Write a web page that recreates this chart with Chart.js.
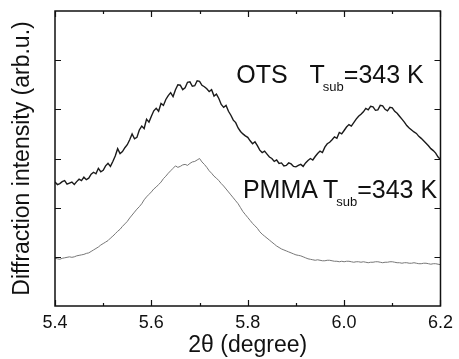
<!DOCTYPE html>
<html>
<head>
<meta charset="utf-8">
<script src="https://cdn.jsdelivr.net/npm/chart.js@4.4.1/dist/chart.umd.min.js"></script>
<style>
  html, body { margin: 0; padding: 0; background: #fff; }
  #wrap { width: 459px; height: 359px; }
</style>
</head>
<body>
<div id="wrap"><canvas id="xrd" width="459" height="359"></canvas></div>
<script>
// 2theta values (degree), step 0.005
var twoTheta = [
  5.400,5.405,5.410,5.415,5.420,5.425,5.430,5.435,5.440,5.445,
  5.450,5.455,5.460,5.465,5.470,5.475,5.480,5.485,5.490,5.495,
  5.500,5.505,5.510,5.515,5.520,5.525,5.530,5.535,5.540,5.545,
  5.550,5.555,5.560,5.565,5.570,5.575,5.580,5.585,5.590,5.595,
  5.600,5.605,5.610,5.615,5.620,5.625,5.630,5.635,5.640,5.645,
  5.650,5.655,5.660,5.665,5.670,5.675,5.680,5.685,5.690,5.695,
  5.700,5.705,5.710,5.715,5.720,5.725,5.730,5.735,5.740,5.745,
  5.750,5.755,5.760,5.765,5.770,5.775,5.780,5.785,5.790,5.795,
  5.800,5.805,5.810,5.815,5.820,5.825,5.830,5.835,5.840,5.845,
  5.850,5.855,5.860,5.865,5.870,5.875,5.880,5.885,5.890,5.895,
  5.900,5.905,5.910,5.915,5.920,5.925,5.930,5.935,5.940,5.945,
  5.950,5.955,5.960,5.965,5.970,5.975,5.980,5.985,5.990,5.995,
  6.000,6.005,6.010,6.015,6.020,6.025,6.030,6.035,6.040,6.045,
  6.050,6.055,6.060,6.065,6.070,6.075,6.080,6.085,6.090,6.095,
  6.100,6.105,6.110,6.115,6.120,6.125,6.130,6.135,6.140,6.145,
  6.150,6.155,6.160,6.165,6.170,6.175,6.180,6.185,6.190,6.195,
  6.200
];

// OTS, Tsub = 343 K (offset trace)
var otsIntensity = [
  2.52,2.47,2.49,2.53,2.55,2.48,2.50,2.52,2.47,2.53,
  2.58,2.55,2.62,2.57,2.60,2.68,2.72,2.69,2.80,2.73,
  2.76,2.85,2.90,2.84,2.94,3.05,3.20,3.10,3.14,3.22,
  3.28,3.38,3.50,3.40,3.43,3.58,3.66,3.61,3.80,3.74,
  3.86,3.97,4.02,3.96,4.12,4.08,4.20,4.28,4.34,4.26,
  4.40,4.50,4.49,4.40,4.44,4.55,4.56,4.47,4.48,4.58,
  4.57,4.49,4.46,4.42,4.36,4.40,4.27,4.31,4.22,4.10,
  4.04,4.08,3.96,3.88,3.78,3.73,3.62,3.55,3.50,3.46,
  3.43,3.36,3.30,3.34,3.26,3.17,3.12,3.15,3.09,3.03,
  3.00,2.94,2.97,2.90,2.91,2.85,2.86,2.91,2.89,2.84,
  2.83,2.86,2.88,2.84,2.91,2.96,3.00,2.97,3.04,3.10,
  3.15,3.12,3.23,3.30,3.33,3.38,3.44,3.41,3.53,3.50,
  3.57,3.64,3.69,3.66,3.73,3.80,3.86,3.90,3.95,4.02,
  3.99,4.06,4.05,3.98,3.99,4.08,4.07,4.00,3.97,4.04,
  4.03,3.96,3.92,3.86,3.80,3.74,3.67,3.62,3.58,3.54,
  3.51,3.45,3.41,3.36,3.31,3.26,3.20,3.16,3.11,3.03,
  2.98
];

// PMMA, Tsub = 343 K
var pmmaIntensity = [
  0.97,0.96,0.95,0.97,0.98,0.99,1.00,0.99,1.00,1.02,
  1.03,1.04,1.05,1.07,1.08,1.11,1.14,1.17,1.20,1.24,
  1.27,1.30,1.33,1.38,1.42,1.47,1.52,1.56,1.62,1.67,
  1.72,1.79,1.85,1.91,1.97,2.02,2.08,2.16,2.22,2.27,
  2.32,2.38,2.42,2.47,2.52,2.59,2.64,2.70,2.75,2.80,
  2.85,2.82,2.84,2.87,2.88,2.86,2.90,2.93,2.94,2.97,
  3.00,2.93,2.88,2.82,2.75,2.70,2.64,2.60,2.55,2.49,
  2.44,2.38,2.32,2.26,2.20,2.14,2.08,2.00,1.92,1.86,
  1.80,1.74,1.68,1.63,1.58,1.51,1.46,1.42,1.38,1.34,
  1.30,1.26,1.22,1.19,1.16,1.14,1.12,1.10,1.08,1.06,
  1.04,1.03,1.02,1.00,0.98,0.96,0.95,0.94,0.93,0.94,
  0.93,0.92,0.92,0.93,0.93,0.92,0.91,0.91,0.90,0.91,
  0.90,0.91,0.91,0.90,0.89,0.90,0.90,0.89,0.90,0.89,
  0.88,0.89,0.89,0.90,0.90,0.89,0.88,0.89,0.89,0.90,
  0.90,0.89,0.88,0.88,0.87,0.88,0.88,0.87,0.87,0.88,
  0.87,0.86,0.86,0.87,0.87,0.86,0.85,0.86,0.86,0.85,
  0.84
];

var xTickValues = [5.4,5.5,5.6,5.7,5.8,5.9,6.0,6.1,6.2];
var yTickValues = [1,2,3,4,5];

var FONT = '"Liberation Sans", Arial, sans-serif';

function pairs(xs, ys) {
  return xs.map(function (x, i) { return { x: x, y: ys[i] }; });
}

// frame, inward ticks and the two labels
var framePlugin = {
  id: 'frame',
  afterDraw: function (chart) {
    var c = chart.ctx;
    var a = chart.chartArea;
    var xs = chart.scales.x, ys = chart.scales.y;
    c.save();
    c.strokeStyle = '#111';
    c.lineWidth = 1.5;
    c.strokeRect(a.left, a.top, a.right - a.left, a.bottom - a.top);

    c.lineWidth = 1.2;
    c.beginPath();
    xTickValues.forEach(function (v) {
      var px = Math.round(xs.getPixelForValue(v)) + 0.5;
      var major = Math.round(v * 10) % 2 === 0;
      var len = major ? 6 : 3;
      c.moveTo(px, a.bottom); c.lineTo(px, a.bottom - len);
      c.moveTo(px, a.top); c.lineTo(px, a.top + len);
    });
    yTickValues.forEach(function (v) {
      var py = Math.round(ys.getPixelForValue(v)) + 0.5;
      c.moveTo(a.left, py); c.lineTo(a.left + 6, py);
      c.moveTo(a.right, py); c.lineTo(a.right - 6, py);
    });
    c.stroke();

    function label(name, gap, xv, yv) {
      var px = xs.getPixelForValue(xv);
      var py = ys.getPixelForValue(yv);
      c.fillStyle = '#111';
      c.textBaseline = 'alphabetic';
      c.textAlign = 'left';
      c.font = '25px ' + FONT;
      c.fillText(name, px, py);
      px += c.measureText(name).width + gap;
      c.fillText('T', px, py);
      px += c.measureText('T').width - 2;
      c.font = '13px ' + FONT;
      c.fillText('sub', px, py + 8);
      px += c.measureText('sub').width;
      c.font = '25px ' + FONT;
      c.fillText('=343 K', px, py);
    }
    label('OTS', 22, 5.776, 4.54);
    label('PMMA', 5, 5.79, 2.19);
    c.restore();
  }
};

new Chart(document.getElementById('xrd'), {
  type: 'line',
  data: {
    datasets: [{
      label: 'OTS',
      data: pairs(twoTheta, otsIntensity),
      borderColor: '#1a1a1a',
      borderWidth: 1.4,
      pointRadius: 0,
      tension: 0
    }, {
      label: 'PMMA',
      data: pairs(twoTheta, pmmaIntensity),
      borderColor: '#777',
      borderWidth: 1,
      pointRadius: 0,
      tension: 0
    }]
  },
  options: {
    responsive: false,
    animation: false,
    layout: { padding: { top: 11, right: 13, bottom: 0, left: 0 } },
    plugins: { legend: { display: false }, tooltip: { enabled: false } },
    scales: {
      x: {
        type: 'linear',
        min: 5.4,
        max: 6.2,
        afterFit: function (s) { s.height = 53; },
        afterBuildTicks: function (s) {
          s.ticks = xTickValues.map(function (v) { return { value: v }; });
        },
        grid: { display: false, drawTicks: false },
        border: { display: false },
        ticks: {
          autoSkip: false,
          maxRotation: 0,
          padding: 6,
          color: '#111',
          font: { family: FONT, size: 18 },
          callback: function (v) {
            return Math.round(v * 10) % 2 === 0 ? v.toFixed(1) : '';
          }
        },
        title: {
          display: true,
          text: '2θ (degree)',
          color: '#111',
          font: { family: FONT, size: 23 },
          padding: { top: 0, bottom: 0 }
        }
      },
      y: {
        min: 0,
        max: 6,
        afterFit: function (s) { s.width = 55; },
        grid: { display: false, drawTicks: false },
        border: { display: false },
        ticks: { display: false },
        title: {
          display: true,
          text: 'Diffraction intensity (arb.u.)',
          color: '#111',
          font: { family: FONT, size: 23 },
          padding: { top: 9, bottom: 0 }
        }
      }
    }
  },
  plugins: [framePlugin]
});
</script>
</body>
</html>
